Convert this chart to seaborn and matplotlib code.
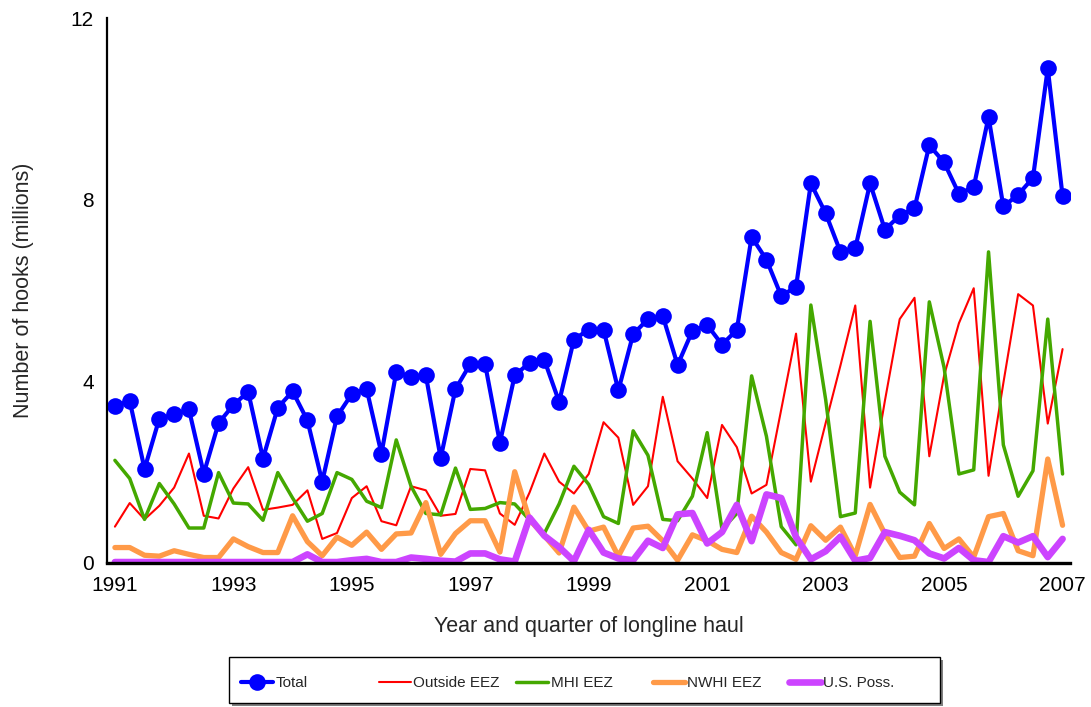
"""
plot.py - longline hooks by area, quarterly 1991-2007
"""

import numpy as np
import pandas as pd
import matplotlib
matplotlib.use("Agg")
import matplotlib.pyplot as plt
from matplotlib.ticker import MultipleLocator, FixedLocator
from matplotlib.patches import Rectangle
import seaborn as sns

# ─────────────────────────────────────────────
# Data (millions of hooks, one value per quarter, 1991 Q1 .. 2007 Q1)
# ─────────────────────────────────────────────
quarters = np.arange(1991, 2007.01, 0.25)

total = [3.46, 3.57, 2.07, 3.18, 3.27, 3.38, 1.97, 3.08, 3.48, 3.77,
         2.30, 3.42, 3.78, 3.14, 1.79, 3.23, 3.72, 3.83, 2.41, 4.20,
         4.10, 4.13, 2.31, 3.83, 4.38, 4.38, 2.65, 4.13, 4.41, 4.47,
         3.55, 4.92, 5.14, 5.14, 3.80, 5.04, 5.37, 5.44, 4.36, 5.11,
         5.24, 4.81, 5.13, 7.18, 6.68, 5.88, 6.08, 8.36, 7.70, 6.85,
         6.93, 8.36, 7.34, 7.65, 7.81, 9.20, 8.82, 8.13, 8.28, 9.82,
         7.85, 8.11, 8.48, 10.89, 8.08]

outside_eez = [0.80, 1.32, 0.96, 1.26, 1.66, 2.41, 1.04, 0.98, 1.64, 2.11,
               1.17, 1.22, 1.28, 1.60, 0.53, 0.66, 1.43, 1.69, 0.92, 0.83,
               1.69, 1.60, 1.04, 1.08, 2.07, 2.04, 1.09, 0.84, 1.55, 2.41,
               1.79, 1.53, 1.96, 3.10, 2.76, 1.28, 1.69, 3.66, 2.24, 1.86,
               1.43, 3.04, 2.55, 1.53, 1.72, 3.38, 5.05, 1.79, 3.08, 4.35,
               5.67, 1.66, 3.57, 5.37, 5.84, 2.35, 4.13, 5.28, 6.05, 1.92,
               3.96, 5.92, 5.67, 3.07, 4.71]

mhi_eez = [2.26, 1.86, 0.96, 1.75, 1.30, 0.77, 0.77, 1.99, 1.32, 1.30,
           0.94, 1.99, 1.43, 0.92, 1.09, 1.99, 1.84, 1.36, 1.22, 2.71,
           1.69, 1.09, 1.06, 2.09, 1.18, 1.20, 1.33, 1.30, 0.95, 0.65,
           1.30, 2.13, 1.73, 1.02, 0.87, 2.91, 2.37, 0.96, 0.93, 1.47,
           2.87, 0.74, 1.09, 4.12, 2.79, 0.80, 0.40, 5.68, 3.60, 1.02,
           1.10, 5.32, 2.35, 1.56, 1.28, 5.75, 4.30, 1.96, 2.05, 6.85,
           2.60, 1.47, 2.03, 5.37, 1.96]

nwhi_eez = [0.34, 0.34, 0.17, 0.15, 0.27, 0.19, 0.12, 0.12, 0.53, 0.36,
            0.23, 0.23, 1.04, 0.47, 0.16, 0.57, 0.39, 0.68, 0.30, 0.64,
            0.66, 1.33, 0.19, 0.65, 0.93, 0.93, 0.24, 2.01, 0.95, 0.60,
            0.22, 1.23, 0.70, 0.79, 0.15, 0.77, 0.81, 0.49, 0.06, 0.62,
            0.49, 0.30, 0.23, 1.03, 0.68, 0.23, 0.08, 0.82, 0.50, 0.79,
            0.16, 1.29, 0.64, 0.12, 0.15, 0.87, 0.32, 0.53, 0.13, 1.02,
            1.09, 0.27, 0.16, 2.29, 0.83]

us_poss = [0.02, 0.02, 0.02, 0.02, 0.02, 0.02, 0.02, 0.02, 0.02, 0.02,
           0.02, 0.02, 0.02, 0.19, 0.02, 0.02, 0.06, 0.09, 0.02, 0.02,
           0.12, 0.09, 0.05, 0.03, 0.21, 0.21, 0.08, 0.03, 1.00, 0.60,
           0.35, 0.04, 0.73, 0.23, 0.10, 0.06, 0.49, 0.33, 1.07, 1.10,
           0.43, 0.68, 1.28, 0.48, 1.51, 1.43, 0.57, 0.08, 0.26, 0.58,
           0.05, 0.11, 0.68, 0.60, 0.50, 0.21, 0.10, 0.33, 0.06, 0.02,
           0.59, 0.45, 0.59, 0.13, 0.53]

year_ticks = list(range(1991, 2008, 2))

df = pd.DataFrame({
    "quarter": quarters,
    "Total": total,
    "Outside EEZ": outside_eez,
    "MHI EEZ": mhi_eez,
    "NWHI EEZ": nwhi_eez,
    "U.S. Poss.": us_poss,
})

# ─────────────────────────────────────────────
# Style
# ─────────────────────────────────────────────
sns.set_style("white")
plt.rcParams["font.family"] = ["Liberation Sans", "DejaVu Sans"]

styles = {
    "Total":       dict(color="#0000FF", lw=3.0, marker="o", ms=12),
    "Outside EEZ": dict(color="#FF0000", lw=1.5),
    "MHI EEZ":     dict(color="#44A800", lw=2.5),
    "NWHI EEZ":    dict(color="#FF9A48", lw=3.8),
    "U.S. Poss.":  dict(color="#CC44FF", lw=4.8),
}

fig = plt.figure(figsize=(10.91, 7.07), dpi=100)
ax = fig.add_axes([0.098, 0.2037, 0.883, 0.7708])

for name, st in styles.items():
    sns.lineplot(data=df, x="quarter", y=name, ax=ax, label=name,
                 color=st["color"], linewidth=st["lw"],
                 marker=st.get("marker"), markersize=st.get("ms", 0),
                 markeredgewidth=0, legend=False)

ax.set_xlim(1990.865, 2007.13)
ax.set_ylim(0, 12)

ax.xaxis.set_major_locator(FixedLocator(year_ticks))
ax.xaxis.set_minor_locator(MultipleLocator(0.25))
ax.yaxis.set_major_locator(MultipleLocator(4))
ax.yaxis.set_minor_locator(MultipleLocator(2))

ax.tick_params(axis="both", which="both", direction="out", colors="black")
ax.tick_params(axis="x", which="major", length=5.5, width=1.2, color="#777777",
               labelsize=15, pad=4)
ax.tick_params(axis="x", which="minor", length=3.5, width=1.0)
ax.tick_params(axis="y", which="both", length=8.5, width=1.0, labelsize=15, pad=1)

for side in ["top", "right"]:
    ax.spines[side].set_visible(False)
ax.spines["left"].set_linewidth(1.6)
ax.spines["bottom"].set_linewidth(2.4)
ax.spines["left"].set_color("black")
ax.spines["bottom"].set_color("black")

ax.set_xlabel("Year and quarter of longline haul", fontsize=15.5, labelpad=15)
ax.set_ylabel("Number of hooks (millions)", fontsize=15.5, labelpad=26)

# ─────────────────────────────────────────────
# Legend box across the bottom (evenly spaced entries)
# ─────────────────────────────────────────────
shadow = Rectangle((0.2125, 0.0015), 0.6517, 0.065, transform=fig.transFigure,
                   facecolor="#808080", edgecolor="none", zorder=1)
frame = Rectangle((0.2099, 0.0057), 0.6517, 0.065, transform=fig.transFigure,
                  facecolor="white", edgecolor="black", linewidth=1.0, zorder=2)
fig.patches.extend([shadow, frame])

handles, labels = ax.get_legend_handles_labels()
entry_x = [0.2210, 0.3475, 0.4731, 0.5986, 0.7233]
for h, lab, x in zip(handles, labels, entry_x):
    leg = fig.legend([h], [lab], loc="center left", bbox_to_anchor=(x, 0.034),
                     frameon=False, fontsize=11, borderpad=0, borderaxespad=0,
                     handlelength=2.1, handletextpad=0.15)
    leg.set_zorder(3)

plt.savefig("out.png", dpi=100)
